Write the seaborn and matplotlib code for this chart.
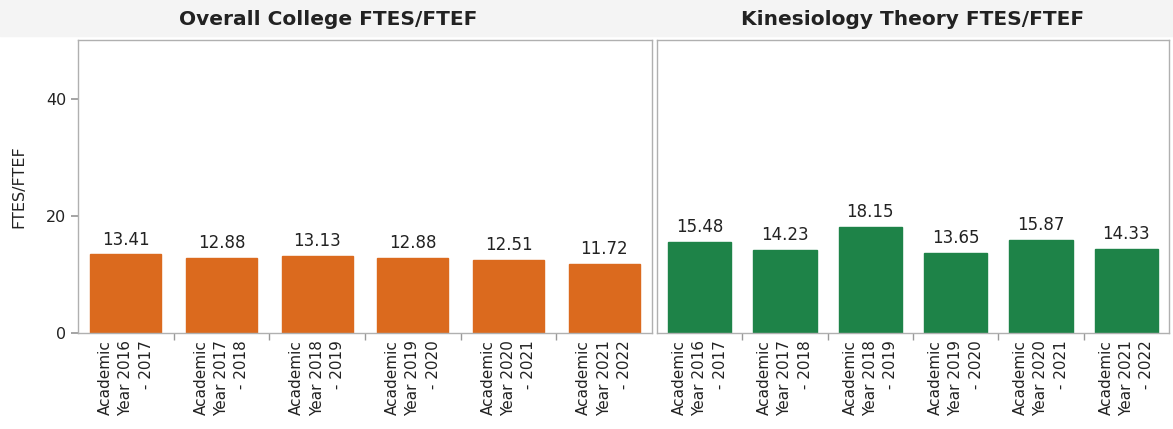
import matplotlib
matplotlib.use("Agg")
import matplotlib.pyplot as plt
import pandas as pd
import seaborn as sns
from matplotlib.patches import Rectangle

years = [
    "Academic\nYear 2016\n - 2017",
    "Academic\nYear 2017\n - 2018",
    "Academic\nYear 2018\n - 2019",
    "Academic\nYear 2019\n - 2020",
    "Academic\nYear 2020\n - 2021",
    "Academic\nYear 2021\n - 2022",
]
college_values = [13.41, 12.88, 13.13, 12.88, 12.51, 11.72]
kines_values = [15.48, 14.23, 18.15, 13.65, 15.87, 14.33]

panel_titles = ["Overall College FTES/FTEF", "Kinesiology Theory FTES/FTEF"]
panel_colors = ["#DB6A1E", "#1E8348"]
title_x = [0.436, 0.5]

sns.set_theme(style="white")
plt.rcParams["font.family"] = ["DejaVu Sans"]

fig, axes = plt.subplots(1, 2, figsize=(11.73, 4.29), dpi=100, sharey=True,
                         gridspec_kw={"width_ratios": [574, 512]})
fig.subplots_adjust(left=0.0665, right=0.9966, top=0.9068, bottom=0.2238, wspace=0.0092)

# faint grey band behind the panel titles
band = Rectangle((0, 0.915), 1, 0.085, transform=fig.transFigure,
                 color="#f4f4f4", zorder=-10)
fig.add_artist(band)

for ax, vals, title, color, tx in zip(axes, [college_values, kines_values],
                                      panel_titles, panel_colors, title_x):
    df = pd.DataFrame({"year": years, "value": vals})
    sns.barplot(data=df, x="year", y="value", color=color, width=0.74,
                saturation=1, ax=ax, edgecolor=color)
    for i, v in enumerate(vals):
        ax.text(i, v + 1.0, f"{v:.2f}", ha="center", va="bottom", fontsize=12, color="#222222")
    ax.set_ylim(0, 50)
    ax.set_yticks([0, 20, 40])
    ax.set_xlabel("")
    ax.set_title(title, fontsize=14.5, fontweight="bold", color="#222222", pad=11, x=tx)
    # category separators on the x axis, labels centred under bars
    ax.set_xticks([i + 0.5 for i in range(len(years) - 1)], minor=True)
    ax.tick_params(axis="x", which="major", labelrotation=90, labelsize=11, length=0,
                   pad=5, labelcolor="#222222")
    ax.tick_params(axis="x", which="minor", bottom=True, length=5, color="#999999")
    for lab in ax.get_xticklabels():
        lab.set_multialignment("right")
        lab.set_linespacing(1.45)
    for spine in ax.spines.values():
        spine.set_color("#b0b0b0")
        spine.set_linewidth(1)

axes[0].set_ylabel("FTES/FTEF", fontsize=11.5, color="#222222", labelpad=14)
axes[0].tick_params(axis="y", labelsize=11.5, length=5, color="#999999", left=True,
                    labelcolor="#222222")
axes[1].set_ylabel("")
axes[1].tick_params(axis="y", left=False)

fig.savefig("out.png", dpi=100)
